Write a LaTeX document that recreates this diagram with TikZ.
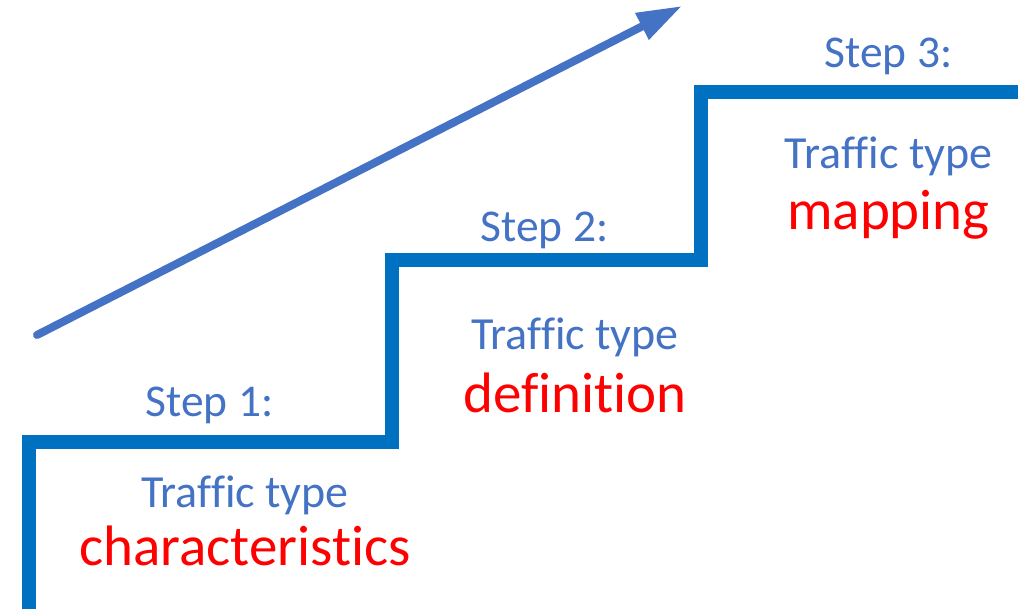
\documentclass[tikz,border=0pt]{standalone}
\usepackage{fontspec}
\setmainfont[Ligatures={NoCommon}]{Carlito}
\usetikzlibrary{arrows.meta}
\definecolor{stairblue}{HTML}{0070C0}
\definecolor{txtblue}{HTML}{4472C4}
\definecolor{txtred}{HTML}{FF0000}
\tikzset{
  stair/.style={draw=stairblue, line width=14pt, line join=miter, line cap=butt},
  growarrow/.style={draw=txtblue, line width=8pt, line cap=round, -{Triangle[length=45pt,width=28pt]}},
  steplabel/.style={anchor=base, inner sep=0pt, text=txtblue, font=\fontsize{45.5}{48}\selectfont},
  typelabel/.style={anchor=base, inner sep=0pt, text=txtblue, font=\fontsize{46}{48}\selectfont},
  keylabel/.style={anchor=base, inner sep=0pt, text=txtred, font=\fontsize{57}{60}\selectfont},
}
\begin{document}
\begin{tikzpicture}[x=1pt,y=-1pt]
\useasboundingbox (0,0) rectangle (1031,609);
\clip (0,0) rectangle (1031,609);
% staircase
\coordinate (s0) at (29,612);
\coordinate (s1) at (29,442);
\coordinate (s2) at (392,442);
\coordinate (s3) at (392,260);
\coordinate (s4) at (701,260);
\coordinate (s5) at (701,92);
\coordinate (s6) at (1018,92);
\draw[stair] (s0) -- (s1) -- (s2) -- (s3) -- (s4) -- (s5) -- (s6);
% arrow
\coordinate (a0) at (37,335);
\coordinate (a1) at (682,6);
\draw[growarrow] (a0) -- (a1);
% labels
\node[steplabel] (st1) at (209.5,417) {Step 1:};
\node[typelabel] (tt1) at (245,507) {Traffic type};
\node[keylabel] (k1) at (245,565) {characteristics};
\node[steplabel] (st2) at (544.5,242) {Step 2:};
\node[typelabel] (tt2) at (575,350) {Traffic type};
\node[keylabel] (k2) at (575,413) {definition};
\node[steplabel] (st3) at (888.5,68) {Step 3:};
\node[typelabel] (tt3) at (888.5,169) {Traffic type};
\node[keylabel] (k3) at (888.5,230) {mapping};
\end{tikzpicture}
\end{document}
